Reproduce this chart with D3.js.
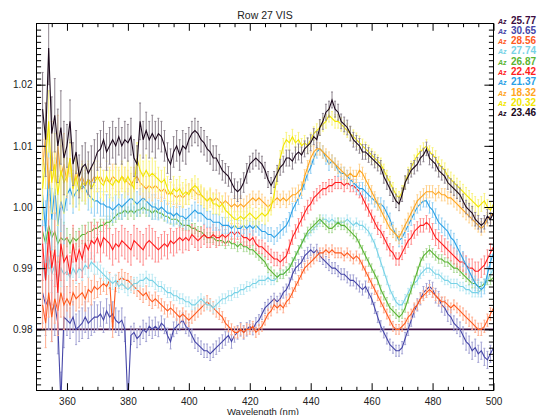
<!DOCTYPE html>
<html>
<head>
<meta charset="utf-8">
<script src="https://cdn.jsdelivr.net/npm/d3@7"></script>
<style>
body { margin: 0; background: #fff; }
text { font-family: "Liberation Sans", Arial, sans-serif; }
</style>
</head>
<body>
<svg width="537" height="415"></svg>
<script>
// sampling grid (nm), one point per nm
var wavelengths = d3.range(352, 501);

// values are deviations from 1.0 in parts per thousand
var az2346 = [16, 11, 26, 12, 15, 10, 13, 8,
  10, 14, 7, 9, 5, 6.5, 7, 5.5, 6.5, 7.5,
  9, 9.5, 11, 9, 10, 11, 10, 11.5, 10, 11,
  10.5, 11.5, 8, 7, 14, 11, 12.5, 11, 12, 11,
  12, 11.5, 10, 8, 7, 9, 10, 8.5, 10, 9.5,
  11, 12, 12.5, 12, 11, 10.5, 9.5, 9, 8, 8,
  7, 6, 5.5, 5, 4, 3, 2.5, 3, 4, 5.5,
  7, 7.5, 8, 7.5, 7, 6, 4.5, 3.5, 4.5, 5.5,
  6.5, 7, 8, 8, 7.5, 8.5, 9, 8.5, 9.5, 10,
  10.5, 11.5, 11, 13, 14, 15.5, 16, 17.5, 16, 15.5,
  14, 13.5, 13, 12, 11, 10.5, 10, 9, 9, 8.5,
  8, 7.5, 7, 6.5, 5, 4, 3, 2, 1, 0.5,
  2, 4, 5, 6, 6.5, 7, 8, 8.5, 9.5, 8,
  7.5, 7, 6, 5.5, 5, 4, 3.5, 3, 2.5, 2,
  1, 0, -0.5, -1, -2, -2.5, -3, -2.5, -1.5, -2,
  -1];

var az2032 = [3, 8, 14, 4, 7, 2, 6, 4,
  5, 8, 3, 5, 2.5, 4, 3.5, 4.5, 3, 4,
  5, 4, 3.5, 5, 4, 3.5, 4.5, 4, 5, 4,
  5, 4, 3, 8, 6, 5, 6, 5, 5.5, 5,
  4.5, 4, 4.5, 3, 2, 3, 2.5, 3, 2, 2.5,
  2, 3, 3.5, 3, 2, 1.5, 1, 1.5, 0.5, 0.5,
  0, 0.5, -0.5, -1, -1.5, -2, -2, -1.5, -2, -1.5,
  -1, -1.5, -2, -1.5, -1, -1.5, -1, 0, 2, 5,
  8, 10, 11, 10.5, 11.5, 10.5, 11, 10, 10.5, 10,
  11, 12, 12.5, 13, 13.5, 14, 15, 14.5, 14, 14,
  13.5, 13, 12.5, 12, 11.5, 11, 10.5, 10, 9.5, 9,
  8.5, 8, 7.5, 7, 6, 5, 4, 3, 2, 1.5,
  2.5, 4, 5.5, 6.5, 7.5, 8.5, 9, 9.5, 10, 9,
  8.5, 8, 7, 6.5, 6, 5, 4.5, 4, 3.5, 3,
  2.5, 2, 1.5, 1, 0.5, 0, 0.5, 1, 0, -0.5,
  0.5];

var az1832 = [6, 12, 3, 9, 4, 10, 5, 7,
  4, 8, 3, 6, 4, 5, 3.5, 4.5, 4, 5,
  4.5, 5, 4, 4.5, 4, 5, 4.5, 4, 5, 4.5,
  4, 3.5, 4.5, 5, 4, 3.5, 3, 3.5, 3, 3.5,
  3, 2.5, 3, 2, 2.5, 2, 1.5, 2, 1.5, 2,
  2.5, 3, 2.5, 2, 2, 1.5, 1, 1.5, 1, 1.5,
  1, 0.5, 1, 0.5, 0, 0.5, 0, 0.5, 0, 0.5,
  1, 1.5, 1, 1.5, 1, 0.5, 0, 0.5, 1, 1.5,
  1, 1.5, 1, 1.5, 2, 2, 2.5, 3, 5, 6.5,
  8, 9, 9.5, 9.5, 9, 8.5, 8, 7.5, 7, 6.5,
  6, 5.5, 5, 5.5, 5, 5, 6, 5.5, 4.5, 3.5,
  2.5, 1.5, 0.5, -0.5, -1.5, -2.5, -3.5, -4, -4.5, -5,
  -4, -3, -2, -1, 0, 1, 1.5, 2, 2.5, 2.5,
  2.5, 2, 2.5, 2, 2, 1.5, 1.5, 1, 0.5, 0,
  -0.5, -1, -1.5, -2, -2.5, -3, -3.5, -3, -2, -1.5,
  -1];

var az2137 = [2, -4, 6, -2, 3, -3, 1, -1,
  2, 3, 1.5, 2.5, 3, 3.5, 3, 2, 1.5, 1,
  1, 0.5, 0.5, 0, 0, -0.5, 0, 0.5, 0, 0.5,
  1, 1.5, 1, 0.5, 1, 1.5, 1, 0.5, 0, 0,
  -0.5, 0, -0.5, -1, -1, -1.5, -1, -1.5, -1.5, -2,
  -1.5, -1, -0.5, -1, -1, -1.5, -2, -2, -2.5, -2.5,
  -2.5, -3, -3, -3, -3.5, -3, -3.5, -3.5, -3, -3.5,
  -3, -3.5, -3, -3.5, -4, -4, -4.5, -4.5, -5, -4.5,
  -4, -3.5, -3, -2, -0.5, 0.5, 1.5, 2.5, 4, 5.5,
  6.5, 8, 9, 9.5, 9, 8, 7, 7.5, 7, 6,
  5.5, 5.5, 5, 4.5, 4, 3.5, 3, 3, 2.5, 2,
  1.5, 1, 0.5, 0.5, 0, -1, -2, -3.5, -4.5, -5.5,
  -5, -4, -3, -2, -1, 0, 0.5, 1, 1, 0,
  -0.5, -1.5, -2.5, -3, -3.5, -4, -5, -5.5, -6.5, -7.5,
  -8.5, -9.5, -10.5, -11.5, -12.5, -13, -13.5, -13, -11, -9,
  -7.5];

var az2242 = [-6, -12, -4, -10, -7, -14, -6, -9,
  -8, -11, -6, -9, -7, -8.5, -6, -7, -5.5, -6,
  -5, -6.5, -5, -5.5, -6, -7, -6, -6.5, -5.5, -6,
  -6.5, -7, -5.5, -6, -6.5, -7, -6, -5.5, -6, -6.5,
  -7, -6.5, -6, -6.5, -5.5, -6, -5.5, -5, -5.5, -5,
  -5.5, -4.5, -5, -5.5, -5, -4.5, -5, -5, -4.5, -5,
  -5, -4.5, -5, -4.5, -4, -4.5, -4, -4.5, -5, -5,
  -5.5, -5, -6, -6.5, -6.5, -7, -7.5, -8, -8.5, -8.5,
  -9, -8.5, -8, -6.5, -5, -4, -3, -2, -1, 0,
  0.5, 1.5, 2, 2.5, 3, 3, 3.5, 3.5, 4, 4,
  4, 3.5, 4, 3.5, 3.5, 3, 2.5, 1.5, 0.5, -0.5,
  -1.5, -2.5, -3.5, -4, -5, -6, -7, -7.5, -8.5, -8.5,
  -7.5, -6.5, -5.5, -5, -4, -3.5, -3, -3, -2.5, -3,
  -4, -5, -5.5, -6, -6.5, -7, -7.5, -8, -8.5, -9,
  -9, -9.5, -10, -10, -10.5, -10.5, -10, -9.5, -8.5, -7.5,
  -6.5];

var az2687 = [-4, -6, -3, -5, -4, -6, -5, -5.5,
  -5, -6, -5, -5.5, -5, -4.5, -4.5, -4, -4, -3.5,
  -3.5, -3, -3, -2.5, -2.5, -2, -1.5, -1, -1, -0.5,
  -1, -0.5, -1, -0.5, -0.5, 0, -0.5, -0.5, -1, -0.5,
  -1, -1, -1.5, -1.5, -2, -2, -2, -2.5, -3, -3,
  -3, -3.5, -3.5, -4, -4, -4.5, -5, -5, -5, -5.5,
  -5.5, -5.5, -6, -5.5, -6, -6, -6.5, -6, -6.5, -6.5,
  -7, -7, -7.5, -8, -8.5, -9, -10, -10.5, -11, -11.5,
  -11, -11, -10.5, -10, -9, -8, -7, -6, -5, -4,
  -3.5, -3, -2.5, -2, -2.5, -3, -3.5, -3.5, -3, -2.5,
  -3, -3, -3.5, -4, -4.5, -5, -6, -7, -8, -9,
  -10, -11, -12, -13.5, -14.5, -15.5, -16.5, -17, -17.5, -18,
  -17.5, -16.5, -15, -13.5, -12, -10.5, -9, -8, -7.5, -7,
  -7.5, -8, -8.5, -8.5, -9, -9, -9.5, -10, -10, -10.5,
  -11, -11.5, -12, -12.5, -12.5, -13, -13, -12.5, -12, -12,
  -11.5];

var az2774 = [-9, -12, -8, -11, -9.5, -12, -10, -11,
  -10.5, -11.5, -10, -11, -10, -10.5, -9.5, -10, -9, -9.5,
  -10, -10.5, -11, -11.5, -12, -12.5, -12, -13, -12.5, -13,
  -13.5, -13, -12.5, -12.5, -12, -12, -11.5, -12, -12, -12.5,
  -13, -13, -13.5, -14, -14, -14.5, -14.5, -15, -15, -15.5,
  -15.5, -16, -16, -15.5, -15, -15.5, -16, -16, -16.5, -16,
  -15.5, -15, -15, -14.5, -14.5, -14, -14, -13.5, -13.5, -13,
  -13, -12.5, -12.5, -12, -12, -12, -11.5, -12, -12, -11.5,
  -11, -11, -10.5, -10, -9, -8, -7, -6, -5, -4.5,
  -4, -3.5, -3, -2.5, -2, -2, -2.5, -2, -2.5, -2.5,
  -2.5, -2.5, -2, -2.5, -3, -2.5, -3, -3, -3.5, -4,
  -5, -6, -7.5, -9, -10.5, -12, -13.5, -14.5, -15.5, -16,
  -16, -15, -14, -13, -12.5, -12, -11, -10.5, -10, -10,
  -10.5, -11, -11, -11.5, -12, -12, -12.5, -12.5, -12.5, -13,
  -13, -13.5, -13.5, -14, -14, -14, -13.5, -13, -12, -11,
  -10];

var az2856 = [-16, -19, -14, -18, -15, -17, -14, -16,
  -15, -16, -14, -15, -14.5, -14, -15, -13.5, -14, -13,
  -13.5, -13, -12.5, -13, -12, -20, -12.5, -12, -11.5, -12,
  -12, -12.5, -13, -13.5, -14, -14.5, -14, -15, -15.5, -15,
  -15.5, -16, -16.5, -17, -16.5, -17, -17.5, -18, -17.5, -18,
  -18.5, -18, -17.5, -17, -16.5, -16, -15.5, -16, -16.5, -17,
  -17.5, -18, -19, -19.5, -20, -20.5, -20.5, -20, -20.5, -20,
  -20, -19.5, -20.5, -20, -19.5, -18.5, -17.5, -17, -16, -16.5,
  -16, -16.5, -15.5, -15, -14, -13, -12, -11, -10, -9.5,
  -9, -8.5, -8, -7.5, -7.5, -7, -7.5, -7, -7.5, -7.5,
  -7.5, -8, -7.5, -8, -8.5, -8, -8.5, -9.5, -10.5, -11.5,
  -12.5, -13.5, -14.5, -15.5, -16.5, -17.5, -18.5, -19.5, -20, -20,
  -19.5, -19, -18, -17.5, -16.5, -16, -15, -14.5, -14, -13.5,
  -14, -14.5, -15, -15.5, -15.5, -16, -16.5, -16, -16.5, -17,
  -17.5, -18, -18.5, -19, -19.5, -20, -20, -19.5, -18.5, -17.5,
  -16.5];

var az3065 = [-14, -16, -15, -17, -16, -19, -32, -18,
  -18.5, -19, -18, -20, -19.5, -19, -18, -19, -18.5, -18,
  -18, -17.5, -18.5, -17, -18, -17.5, -18.5, -19, -18.5, -20,
  -32, -21, -20.5, -21.5, -21, -20, -20.5, -19.5, -20, -19.5,
  -20, -19, -19.5, -21, -22, -20, -19.5, -19, -18.5, -19.5,
  -20, -21, -22, -22.5, -23, -23.5, -23.5, -24, -23.5, -23,
  -22.5, -22, -21.5, -21, -22, -21, -20.5, -20, -20.5, -20,
  -19.5, -20, -19, -18.5, -17.5, -16.5, -16, -15.5, -15, -15.5,
  -15, -14, -13.5, -12.5, -11, -10, -9.5, -9, -8, -7.5,
  -7, -7.5, -7, -8, -8.5, -9, -9.5, -10, -10, -10.5,
  -11, -11, -11.5, -12, -12, -12.5, -13, -13.5, -13, -14,
  -15, -16.5, -18, -19.5, -20.5, -21.5, -22.5, -23, -23.5, -23.5,
  -23, -21.5, -20, -18.5, -17, -16, -15, -14, -13.5, -13,
  -13.5, -14.5, -15, -16, -16.5, -17.5, -18, -19, -19.5, -20,
  -21, -22, -22.5, -23.5, -23, -24, -23.5, -24.5, -25, -24,
  -23];

// flat reference series (25.77)
var flatX = [350, 500];
var az2577 = [-20, -20];

// half error bar per 10 nm block (350s ... 490s), parts per thousand
var err2346 = [6, 3.5, 3, 3, 2.5, 2, 1.6, 1.3, 1.3, 1.3, 1.2, 1.1, 1.1, 1.1, 1.1];
var err2032 = [5, 3, 2.5, 2.5, 2, 1.6, 1.3, 1.3, 1.2, 1.1, 1.1, 1, 1, 1.2, 1.2];
var err1832 = [5, 2.5, 2, 2, 1.6, 1.3, 1.3, 1.1, 1.1, 1, 1, 1, 1, 1, 1.1];
var err2137 = [5, 2.5, 2, 2, 1.6, 1.3, 1.3, 1.1, 1.1, 1, 1, 1, 1, 1.2, 1.2];
var err2242 = [6, 3, 2.5, 2.5, 2, 1.6, 1.3, 1.1, 1.1, 1, 1, 1, 1.1, 1.3, 1.5];
var err2687 = [3, 1.5, 1, 1, 0.8, 0.8, 0.8, 0.7, 0.7, 0.7, 0.7, 0.7, 0.7, 0.7, 0.7];
var err2774 = [3, 1.5, 1, 1, 0.8, 0.8, 0.8, 0.7, 0.7, 0.7, 0.7, 0.7, 0.7, 0.7, 0.7];
var err2856 = [4, 2, 1.3, 1.1, 1, 1, 0.9, 0.8, 0.8, 0.8, 0.8, 0.8, 0.8, 0.8, 1];
var err3065 = [5, 2.5, 2, 1.5, 1.2, 1.1, 1.1, 0.9, 0.9, 0.9, 0.9, 0.9, 1, 1.2, 1.4];

var legendAz = ["25.77", "30.65", "28.56", "27.74", "26.87", "22.42", "21.37", "18.32", "20.32", "23.46"];
var legendColors = ["#3c0c40", "#4646a8", "#ff5a1e", "#78d2e6", "#5ab432", "#ff1e1e", "#2aa0e6", "#ffa51e", "#f2e600", "#1c081c"];

var xTicks = [360, 380, 400, 420, 440, 460, 480, 500];
var yTicks = [0.98, 0.99, 1.00, 1.01, 1.02];

var svg = d3.select("svg");
var plotLeft = 36.5, plotRight = 493.5, plotTop = 23.5, plotBottom = 390.5;

var x = d3.scaleLinear().domain([350, 500]).range([plotLeft, plotRight]);
var y = d3.scaleLinear().domain([0.97, 1.03]).range([plotBottom, plotTop]);
var ratio = function(d){ return 1 + d / 1000; };

svg.append("defs").append("clipPath").attr("id", "plotclip")
  .append("rect").attr("x", plotLeft).attr("y", plotTop)
  .attr("width", plotRight - plotLeft).attr("height", plotBottom - plotTop);

var series = [
  { az: "30.65", vals: az3065, err: err3065 },
  { az: "28.56", vals: az2856, err: err2856 },
  { az: "27.74", vals: az2774, err: err2774 },
  { az: "26.87", vals: az2687, err: err2687 },
  { az: "22.42", vals: az2242, err: err2242 },
  { az: "21.37", vals: az2137, err: err2137 },
  { az: "18.32", vals: az1832, err: err1832 },
  { az: "20.32", vals: az2032, err: err2032 },
  { az: "23.46", vals: az2346, err: err2346 }
];

var plot = svg.append("g").attr("clip-path", "url(#plotclip)");

var line = d3.line()
  .x(function(d){ return x(d[0]); })
  .y(function(d){ return y(ratio(d[1])); });

// flat series first
plot.append("path")
  .datum(flatX.map(function(w, i){ return [w, az2577[i]]; }))
  .attr("d", line)
  .attr("fill", "none")
  .attr("stroke", legendColors[0])
  .attr("stroke-width", 1.6);

series.forEach(function(s){
  var color = legendColors[legendAz.indexOf(s.az)];
  var light = d3.interpolateRgb(color, "#ffffff")(0.5);
  var pts = wavelengths.map(function(w, i){
    var e = s.err[Math.min(14, Math.floor((w - 350) / 10))];
    return { w: w, v: s.vals[i], e: e };
  });

  var bars = plot.append("g")
    .attr("stroke", light)
    .attr("stroke-width", 1);
  bars.selectAll("line.bar").data(pts).enter().append("line")
    .attr("class", "bar")
    .attr("x1", function(d){ return x(d.w); })
    .attr("x2", function(d){ return x(d.w); })
    .attr("y1", function(d){ return y(ratio(d.v - d.e)); })
    .attr("y2", function(d){ return y(ratio(d.v + d.e)); });
  bars.selectAll("line.cap").data(pts).enter().append("line")
    .attr("class", "cap")
    .attr("x1", function(d){ return x(d.w) - 1; })
    .attr("x2", function(d){ return x(d.w) + 1; })
    .attr("y1", function(d){ return y(ratio(d.v + d.e)); })
    .attr("y2", function(d){ return y(ratio(d.v + d.e)); });
  bars.selectAll("line.capl").data(pts).enter().append("line")
    .attr("class", "capl")
    .attr("x1", function(d){ return x(d.w) - 1; })
    .attr("x2", function(d){ return x(d.w) + 1; })
    .attr("y1", function(d){ return y(ratio(d.v - d.e)); })
    .attr("y2", function(d){ return y(ratio(d.v - d.e)); });

  plot.append("path")
    .datum(pts.map(function(p){ return [p.w, p.v]; }))
    .attr("d", line)
    .attr("fill", "none")
    .attr("stroke", color)
    .attr("stroke-width", 1.1);
});

// frame
svg.append("rect")
  .attr("x", plotLeft).attr("y", plotTop)
  .attr("width", plotRight - plotLeft).attr("height", plotBottom - plotTop)
  .attr("fill", "none").attr("stroke", "#000").attr("stroke-width", 1);

var xMinor = d3.range(355, 500, 5).filter(function(v){ return xTicks.indexOf(v) < 0; });
var yMinor = d3.range(971, 1030).map(function(v){ return v / 1000; });

function tidy(g){ g.select(".domain").remove(); g.selectAll("line").attr("stroke", "#000"); }

svg.append("g").attr("transform", "translate(0," + plotBottom + ")")
  .call(d3.axisBottom(x).tickValues(xTicks).tickSize(-7.3).tickPadding(7).tickFormat(d3.format("d")))
  .call(tidy)
  .selectAll("text").attr("font-size", 10).attr("fill", "#222").attr("font-family", "Liberation Sans, Arial, sans-serif");
svg.append("g").attr("transform", "translate(0," + plotBottom + ")")
  .call(d3.axisBottom(x).tickValues(xMinor).tickSize(-3.7).tickFormat(""))
  .call(tidy);
svg.append("g").attr("transform", "translate(0," + plotTop + ")")
  .call(d3.axisTop(x).tickValues(xTicks).tickSize(-7.3).tickFormat(""))
  .call(tidy);
svg.append("g").attr("transform", "translate(0," + plotTop + ")")
  .call(d3.axisTop(x).tickValues(xMinor).tickSize(-3.7).tickFormat(""))
  .call(tidy);

svg.append("g").attr("transform", "translate(" + plotLeft + ",0)")
  .call(d3.axisLeft(y).tickValues(yTicks).tickSize(-9.1).tickPadding(4).tickFormat(d3.format(".2f")))
  .call(tidy)
  .selectAll("text").attr("font-size", 10).attr("fill", "#222").attr("font-family", "Liberation Sans, Arial, sans-serif");
svg.append("g").attr("transform", "translate(" + plotLeft + ",0)")
  .call(d3.axisLeft(y).tickValues(yMinor).tickSize(-4.6).tickFormat(""))
  .call(tidy);
svg.append("g").attr("transform", "translate(" + plotRight + ",0)")
  .call(d3.axisRight(y).tickValues(yTicks).tickSize(-9.1).tickFormat(""))
  .call(tidy);
svg.append("g").attr("transform", "translate(" + plotRight + ",0)")
  .call(d3.axisRight(y).tickValues(yMinor).tickSize(-4.6).tickFormat(""))
  .call(tidy);

// titles
svg.append("text")
  .attr("x", (plotLeft + plotRight) / 2).attr("y", 18.5)
  .attr("text-anchor", "middle").attr("font-size", 10.5).attr("fill", "#222")
  .text("Row 27 VIS");
svg.append("text")
  .attr("x", 263).attr("y", 414.5)
  .attr("text-anchor", "middle").attr("font-size", 9.5).attr("fill", "#222")
  .text("Wavelength (nm)");

// legend
var legend = svg.append("g");
legendAz.forEach(function(a, i){
  var row = legend.append("g").attr("transform", "translate(498," + (23.5 + i * 10.33) + ")");
  row.append("text").attr("x", 0).attr("y", 0)
    .attr("font-size", 7).attr("font-weight", "bold").attr("font-style", "italic")
    .attr("fill", legendColors[i]).text("Az");
  row.append("text").attr("x", 13).attr("y", 0)
    .attr("font-size", 10).attr("font-weight", "bold")
    .attr("fill", legendColors[i]).text(a);
});
</script>
</body>
</html>
